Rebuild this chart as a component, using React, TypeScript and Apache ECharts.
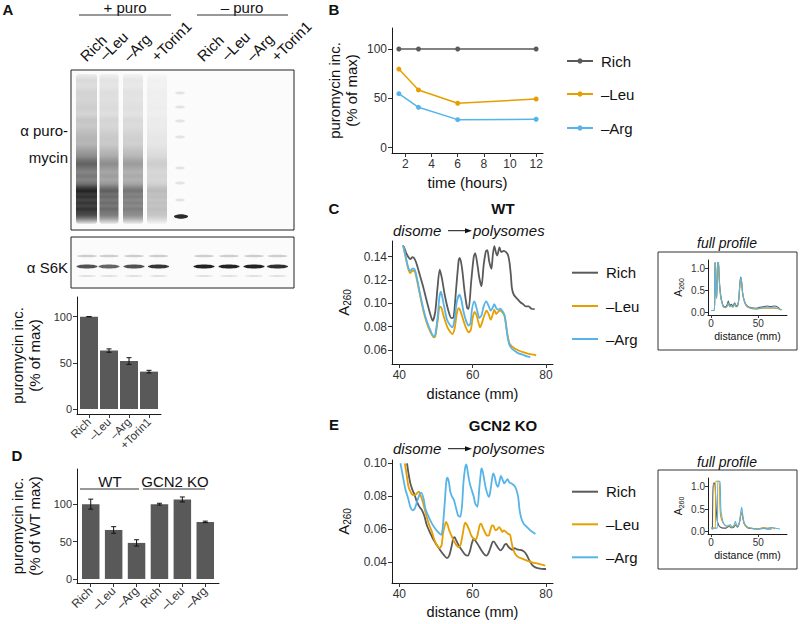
import React, { useEffect, useRef } from "react";
import * as echarts from "echarts";

const FONT = "'Liberation Sans', Arial, Helvetica, sans-serif";
const COL_RICH = "#5a5a5a";
const COL_LEU = "#E69F00";
const COL_ARG = "#56B4E9";
const COL_BAR = "#595959";

// ---------------- data ----------------
const conditionNames = ["Rich", "–Leu", "–Arg"];

const barACategories = ["Rich", "–Leu", "–Arg", "+Torin1"];
const barAValues = [100, 63.3, 52, 40.5];
const barAErrors = [0, 1.8, 3.6, 1.4];

const barDCategories = ["Rich", "–Leu", "–Arg", "Rich", "–Leu", "–Arg"];
const barDValues = [100, 65.5, 48.2, 100, 106.3, 76.3];
const barDErrors = [6.7, 4.4, 4.2, 1.2, 3.3, 1.0];

const timeHours = [1.5, 3, 6, 12];
const timeRich = [100, 100, 100, 100];
const timeLeu = [79.7, 58.5, 45, 49.3];
const timeArg = [54.7, 40.9, 28.4, 28.8];

const wtRich = [[41.2,0.149],[42.1,0.1417],[43.0,0.138],[43.6,0.1397],[44.2,0.138],[44.8,0.133],[45.7,0.123],[46.6,0.113],[47.5,0.1017],[48.5,0.090],[49.1,0.085],[49.8,0.093],[50.4,0.113],[51.0,0.129],[51.6,0.1217],[52.4,0.107],[53.3,0.0946],[54.2,0.0874],[54.8,0.088],[55.5,0.113],[56.2,0.1374],[56.5,0.139],[57.1,0.130],[57.8,0.110],[58.5,0.096],[58.9,0.0954],[59.6,0.119],[60.3,0.140],[60.7,0.143],[61.3,0.133],[61.8,0.122],[62.4,0.1146],[63.0,0.133],[63.6,0.1446],[64.0,0.1457],[64.5,0.136],[65.1,0.1297],[65.5,0.1417],[65.9,0.149],[66.4,0.143],[66.7,0.141],[67.3,0.148],[67.8,0.144],[68.5,0.1451],[69.1,0.144],[69.6,0.1417],[70.0,0.136],[70.4,0.1246],[70.7,0.113],[71.2,0.1074],[72.1,0.104],[73.0,0.101],[73.9,0.0989],[74.5,0.0974],[75.3,0.0974],[76.0,0.0954],[76.9,0.0951]];
const wtLeu = [[41.0,0.150],[41.6,0.1417],[42.4,0.130],[43.0,0.126],[43.6,0.128],[44.2,0.1274],[44.8,0.120],[45.7,0.106],[46.6,0.093],[47.5,0.083],[48.5,0.0754],[49.4,0.0709],[49.8,0.0717],[50.5,0.086],[51.0,0.0974],[51.5,0.096],[52.1,0.0889],[53.0,0.0803],[53.9,0.0754],[54.5,0.0737],[55.1,0.0789],[55.7,0.0917],[56.2,0.096],[56.7,0.0931],[57.5,0.085],[58.2,0.0789],[58.9,0.0751],[59.5,0.0774],[60.0,0.0874],[60.5,0.0926],[61.0,0.0903],[61.5,0.0846],[62.0,0.0794],[62.5,0.0831],[63.3,0.0909],[63.8,0.0937],[64.4,0.0903],[64.9,0.086],[65.5,0.0909],[65.9,0.0946],[66.4,0.0909],[66.9,0.0926],[67.5,0.0937],[68.2,0.0917],[68.7,0.0889],[69.1,0.0811],[69.5,0.0731],[70.0,0.066],[70.7,0.0631],[71.6,0.0611],[72.7,0.0594],[73.9,0.058],[75.3,0.0566],[76.6,0.056],[77.3,0.0554]];
const wtArg = [[41.0,0.150],[41.6,0.1417],[42.4,0.131],[43.0,0.128],[43.6,0.130],[44.2,0.1289],[44.8,0.1217],[45.7,0.1074],[46.6,0.0946],[47.5,0.0846],[48.5,0.0766],[49.4,0.0717],[49.8,0.073],[50.5,0.090],[50.9,0.1046],[51.3,0.110],[51.6,0.107],[52.3,0.096],[53.0,0.086],[53.9,0.0811],[54.5,0.0794],[55.1,0.0874],[55.7,0.1017],[56.4,0.1074],[56.9,0.1031],[57.5,0.093],[58.2,0.085],[58.9,0.081],[59.4,0.083],[59.8,0.0946],[60.4,0.1017],[60.7,0.100],[61.3,0.093],[61.8,0.0874],[62.4,0.0897],[63.0,0.0974],[63.7,0.1017],[64.4,0.0974],[64.9,0.0937],[65.5,0.0966],[65.9,0.0994],[66.4,0.096],[66.9,0.0946],[67.5,0.0954],[68.2,0.093],[68.7,0.0897],[69.1,0.0817],[69.5,0.0717],[70.0,0.0646],[70.7,0.0611],[71.6,0.0589],[72.5,0.0571],[73.6,0.056],[74.8,0.0546],[75.7,0.054]];

const koRich = [[42.1,0.100],[42.5,0.0939],[43.0,0.0878],[43.6,0.0837],[44.2,0.0806],[44.8,0.0765],[45.5,0.0735],[46.2,0.0714],[46.9,0.0674],[47.5,0.0623],[48.5,0.0572],[49.4,0.0531],[50.3,0.050],[51.2,0.047],[52.1,0.0443],[53.0,0.0423],[53.6,0.0439],[54.2,0.049],[54.7,0.0541],[55.1,0.0551],[55.5,0.0531],[56.2,0.050],[57.1,0.047],[58.0,0.0443],[58.7,0.0439],[59.3,0.047],[59.8,0.0516],[60.3,0.0541],[60.7,0.0531],[61.5,0.0504],[62.4,0.047],[63.3,0.0443],[63.8,0.0439],[64.4,0.0459],[65.0,0.0496],[65.5,0.0524],[65.8,0.0524],[66.4,0.0504],[67.1,0.048],[67.6,0.047],[68.2,0.0484],[68.7,0.0504],[69.2,0.051],[69.6,0.0496],[70.3,0.048],[70.9,0.0474],[71.5,0.0484],[72.1,0.0476],[72.7,0.0474],[73.5,0.047],[74.2,0.0459],[74.8,0.0439],[75.5,0.0408],[76.2,0.0382],[77.1,0.0367],[78.0,0.0361],[79.4,0.0357],[80.0,0.0357]];
const koLeu = [[41.5,0.100],[42.0,0.0929],[42.5,0.0857],[43.3,0.0816],[43.9,0.0806],[44.5,0.081],[45.3,0.0827],[45.7,0.081],[46.4,0.0765],[47.1,0.0704],[48.0,0.0633],[48.9,0.0582],[49.6,0.0531],[50.3,0.050],[50.9,0.0484],[51.5,0.050],[51.9,0.0572],[52.4,0.0623],[52.7,0.0643],[53.2,0.0623],[53.6,0.0592],[54.2,0.0561],[54.8,0.0531],[55.5,0.0504],[56.2,0.049],[56.7,0.0504],[57.3,0.0572],[57.7,0.0623],[58.0,0.0639],[58.5,0.0623],[59.1,0.0592],[59.6,0.0561],[60.3,0.0541],[60.9,0.0537],[61.5,0.0582],[61.9,0.0623],[62.3,0.0633],[62.7,0.0612],[63.3,0.0582],[63.9,0.0561],[64.4,0.0561],[64.8,0.0592],[65.3,0.0623],[65.7,0.0618],[66.2,0.0592],[66.7,0.0598],[67.2,0.0612],[67.6,0.0602],[68.1,0.0582],[68.5,0.0592],[69.1,0.0582],[69.6,0.0572],[70.2,0.0565],[70.5,0.0531],[71.0,0.048],[71.6,0.0449],[72.5,0.0429],[73.6,0.0419],[74.8,0.0408],[76.2,0.0398],[78.0,0.0388],[79.8,0.0378]];
const koArg = [[40.3,0.100],[40.9,0.0929],[41.6,0.0847],[42.4,0.0786],[43.0,0.0735],[43.6,0.0714],[44.2,0.0725],[44.8,0.0765],[45.5,0.081],[46.0,0.0822],[46.6,0.0786],[47.1,0.0725],[48.0,0.0674],[48.9,0.0633],[49.8,0.0602],[50.7,0.0578],[51.4,0.0565],[51.8,0.0602],[52.4,0.0765],[52.8,0.0888],[53.1,0.0912],[53.5,0.0888],[53.9,0.0827],[54.4,0.0796],[54.9,0.0776],[55.5,0.0725],[56.0,0.0684],[56.6,0.0674],[57.1,0.0745],[57.5,0.0888],[58.0,0.098],[58.3,0.0994],[58.7,0.0939],[59.2,0.0878],[59.6,0.0847],[60.3,0.0796],[60.7,0.0755],[61.3,0.0735],[61.8,0.0847],[62.3,0.0959],[62.5,0.0969],[63.0,0.0918],[63.6,0.0847],[64.4,0.0796],[64.8,0.0827],[65.3,0.0908],[65.6,0.0939],[66.0,0.0918],[66.4,0.0878],[66.9,0.0857],[67.3,0.0888],[67.7,0.0924],[68.2,0.0898],[68.6,0.0878],[69.1,0.0892],[69.5,0.0904],[70.0,0.0884],[70.5,0.0878],[71.2,0.0867],[71.8,0.0847],[72.4,0.0796],[72.8,0.0714],[73.3,0.0663],[73.9,0.0633],[74.8,0.0612],[75.7,0.0592],[76.6,0.0578],[77.1,0.057]];

const wtFullRich = [[0,0.05],[3,0.05],[3.8,0.2],[4.2,1.12],[4.7,1.12],[5.3,0.45],[6,0.35],[6.9,1.12],[7.8,1.12],[8.4,0.9],[9.2,0.6],[10.2,0.4],[11.5,0.25],[13,0.15],[15,0.13],[17,0.18],[18.3,0.26],[19.8,0.16],[21.5,0.19],[23,0.15],[25,0.22],[26.5,0.16],[28,0.16],[29.3,0.3],[30.3,0.6],[31.3,0.8],[32.2,0.72],[33.2,0.48],[34.5,0.32],[36.5,0.2],[39,0.14],[43,0.11],[47,0.1],[51,0.12],[55,0.13],[59,0.15],[63,0.14],[67,0.15],[71,0.12],[73,0.07]];
const wtFullLeu = [[0,0.05],[3,0.05],[3.8,0.2],[4.2,1.12],[4.7,1.12],[5.3,0.42],[6,0.32],[6.9,1.12],[7.8,1.12],[8.4,0.85],[9.2,0.55],[10.2,0.35],[11.5,0.22],[13,0.13],[15,0.11],[17,0.14],[18.3,0.2],[19.8,0.13],[21.5,0.15],[23,0.12],[25,0.18],[26.5,0.13],[28,0.14],[29.3,0.28],[30.3,0.55],[31.3,0.75],[32.2,0.7],[33.2,0.46],[34.5,0.3],[36.5,0.18],[39,0.12],[43,0.09],[47,0.08],[51,0.09],[55,0.1],[59,0.1],[63,0.1],[67,0.1],[71,0.09],[75,0.06]];
const wtFullArg = [[0,0.05],[3,0.05],[3.8,0.2],[4.2,1.12],[4.7,1.12],[5.3,0.44],[6,0.33],[6.9,1.12],[7.8,1.12],[8.4,0.88],[9.2,0.58],[10.2,0.37],[11.5,0.23],[13,0.14],[15,0.12],[17,0.15],[18.3,0.22],[19.8,0.14],[21.5,0.16],[23,0.13],[25,0.2],[26.5,0.14],[28,0.15],[29.3,0.3],[30.3,0.58],[31.3,0.78],[32.2,0.72],[33.2,0.48],[34.5,0.31],[36.5,0.19],[39,0.13],[43,0.1],[47,0.09],[51,0.1],[55,0.11],[59,0.11],[63,0.11],[67,0.11],[71,0.1],[74,0.06]];

const koFullRich = [[1.5,0.05],[2,0.9],[2.8,1.08],[3.8,1.08],[4.6,0.9],[5.5,0.5],[6.5,0.25],[8,0.15],[10,0.1],[13,0.08],[16,0.08],[19,0.12],[21,0.09],[24,0.1],[26,0.15],[28,0.1],[30,0.2],[31.5,0.38],[32.5,0.42],[33.5,0.32],[35,0.18],[38,0.1],[42,0.07],[50,0.06],[56,0.07],[60,0.06],[64,0.06]];
const koFullLeu = [[0,0.08],[4.5,0.08],[5,1.12],[8.5,1.12],[9.3,0.6],[10.2,0.34],[11.5,0.25],[13,0.19],[16.5,0.12],[19,0.14],[21,0.1],[24,0.12],[26,0.16],[28,0.12],[30,0.2],[31.5,0.38],[32.5,0.44],[33.5,0.33],[35,0.18],[38,0.1],[42,0.08],[50,0.06],[55,0.09],[60,0.08],[64,0.09],[67.6,0.06]];
const koFullArg = [[0,0.08],[6.7,0.08],[7.2,1.12],[9.5,1.12],[10.1,0.7],[10.6,0.45],[12,0.28],[13,0.19],[16.5,0.12],[19,0.14],[20.5,0.16],[22,0.1],[24,0.13],[25.8,0.23],[27.5,0.12],[30,0.2],[31.5,0.45],[32.4,0.55],[33.4,0.4],[35,0.2],[37.7,0.12],[42,0.08],[50,0.06],[55,0.08],[60,0.07],[65,0.09],[70,0.07],[72.9,0.06]];

// tick labels
const pctTicks = [0, 50, 100];
const hourTicks = [2, 4, 6, 8, 10, 12];
const mmTicks = [40, 60, 80];
const wtA260Ticks = [0.06, 0.08, 0.10, 0.12, 0.14];
const koA260Ticks = [0.04, 0.06, 0.08, 0.10];
const fullMmTicks = [0, 50];
const fullA260Ticks = [0, 0.5, 1.0];

// ---------------- helpers ----------------
function valAxis(o: any) {
  return {
    type: "value",
    gridIndex: o.grid,
    min: o.min,
    max: o.max,
    axisLine: { show: true, onZero: false, lineStyle: { color: "#1a1a1a", width: 1 } },
    axisTick: { show: true, length: o.tickLen || 4, customValues: o.ticks, lineStyle: { color: "#333", width: 1 } },
    axisLabel: {
      show: true,
      customValues: o.ticks,
      formatter: o.fmt,
      color: "#333",
      fontSize: o.fs || 11.5,
      fontFamily: FONT,
      margin: o.margin || 5,
      rotate: o.rotate || 0,
    },
    splitLine: { show: false },
    name: o.name,
    nameLocation: "middle",
    nameGap: o.nameGap,
    nameRotate: o.nameRotate,
    nameTextStyle: Object.assign(
      { fontFamily: FONT, fontSize: o.nfs || 15, color: "#111", lineHeight: o.nlh || 17 },
      o.nameStyle || {}
    ),
  };
}

function a260Name(big: number, small: number) {
  return {
    rich: {
      a: { fontFamily: FONT, fontSize: big, color: "#111", lineHeight: big + 3 },
      b: { fontFamily: FONT, fontSize: small, color: "#111", verticalAlign: "bottom", lineHeight: small },
    },
  };
}

function lineSeries(name: string, data: any, xi: number, color: string, width: number, withSymbol = false) {
  return {
    type: "line",
    name,
    xAxisIndex: xi,
    yAxisIndex: xi,
    data,
    smooth: withSymbol ? false : 0.25,
    symbol: withSymbol ? "circle" : "none",
    symbolSize: 5,
    showSymbol: withSymbol,
    lineStyle: { color, width },
    itemStyle: { color },
    clip: true,
    z: 3,
  };
}

function errorSeries(xi: number, values: number[], errs: number[]) {
  return {
    type: "custom",
    xAxisIndex: xi,
    yAxisIndex: xi,
    data: values.map((v, i) => [i + 1, v - errs[i], v + errs[i]]),
    encode: { x: 0, y: [1, 2] },
    z: 5,
    renderItem: (params: any, api: any) => {
      const x = api.value(0);
      const top = api.coord([x, api.value(2)]);
      const bot = api.coord([x, api.value(1)]);
      const w = 2.5;
      const st = { stroke: "#111", lineWidth: 1 };
      return {
        type: "group",
        children: [
          { type: "line", shape: { x1: top[0], y1: top[1], x2: bot[0], y2: bot[1] }, style: st },
          { type: "line", shape: { x1: top[0] - w, y1: top[1], x2: top[0] + w, y2: top[1] }, style: st },
          { type: "line", shape: { x1: bot[0] - w, y1: bot[1], x2: bot[0] + w, y2: bot[1] }, style: st },
        ],
      };
    },
  };
}

function txt(text: string, x: number, y: number, opt: any = {}) {
  const font = `${opt.style || "normal"} ${opt.weight || "normal"} ${opt.size || 15}px ${FONT}`;
  return {
    type: "text",
    x,
    y,
    rotation: opt.rotation || 0,
    z: 10,
    style: {
      text,
      font,
      fill: opt.color || "#111",
      align: opt.align || "center",
      textAlign: opt.align || "center",
      verticalAlign: opt.va || "middle",
      textVerticalAlign: opt.va || "middle",
    },
  };
}

function hline(x1: number, x2: number, y: number, color = "#333", w = 1) {
  return { type: "line", shape: { x1, y1: y, x2, y2: y }, style: { stroke: color, lineWidth: w }, z: 10 };
}

function legendGraphic(x0: number, ys: number[], dots: boolean) {
  const cols = [COL_RICH, COL_LEU, COL_ARG];
  const els: any[] = [];
  conditionNames.forEach((n, i) => {
    els.push(hline(x0, x0 + 26, ys[i], cols[i], 2));
    if (dots) els.push({ type: "circle", shape: { cx: x0 + 13, cy: ys[i], r: 2.6 }, style: { fill: cols[i] }, z: 11 });
    els.push(txt(n, x0 + 34, ys[i], { align: "left", size: 15 }));
  });
  return els;
}

function arrowLabel(y: number) {
  return [
    txt("disome", 393, y, { align: "left", style: "italic", size: 15 }),
    hline(448, 467, y + 0.7, "#111", 1),
    { type: "polygon", shape: { points: [[472, y + 0.7], [465, y - 1.8], [465, y + 3.2]] }, style: { fill: "#111" }, z: 10 },
    txt("polysomes", 473, y, { align: "left", style: "italic", size: 15 }),
  ];
}

function blotGraphic() {
  const els: any[] = [];
  els.push({ type: "rect", shape: { x: 71, y: 70, width: 223, height: 160 }, style: { fill: "#fbfbfb", stroke: "#222", lineWidth: 1 }, z: 1 });
  const profile = [[74,0.06],[80,0.15],[86,0.13],[92,0.18],[100,0.17],[108,0.2],[114,0.17],[120,0.24],[126,0.22],[132,0.27],[138,0.31],[144,0.3],[150,0.4],[156,0.48],[160,0.6],[164,0.68],[168,0.6],[172,0.52],[176,0.58],[180,0.52],[184,0.62],[188,0.85],[191,0.97],[194,0.85],[197,0.9],[200,0.8],[203,0.88],[206,0.8],[209,0.9],[212,0.82],[215,0.78],[218,0.6],[221,0.35],[224,0.08]];
  const top = 74, bot = 224;
  const lanes = [[86.5, 21, 1], [109, 19, 0.72], [133, 20, 0.62], [157, 20, 0.3]];
  lanes.forEach(([cx, w, k]) => {
    els.push({
      type: "rect",
      shape: { x: cx - w / 2, y: top, width: w, height: bot - top, r: 3 },
      style: {
        fill: {
          type: "linear", x: 0, y: 0, x2: 0, y2: 1,
          colorStops: profile.map(([y, d]) => ({ offset: (y - top) / (bot - top), color: `rgba(25,25,25,${(d * k).toFixed(3)})` })),
        },
      },
      z: 2,
    });
  });
  [93, 107, 121, 137, 168, 183, 200].forEach((y) =>
    els.push({ type: "ellipse", shape: { cx: 180, cy: y, rx: 5, ry: 1.5 }, style: { fill: "rgba(0,0,0,0.09)" }, z: 2 })
  );
  els.push({ type: "ellipse", shape: { cx: 181, cy: 216.5, rx: 7, ry: 2.2 }, style: { fill: "rgba(20,20,20,0.9)" }, z: 2 });

  els.push({ type: "rect", shape: { x: 71, y: 237, width: 223, height: 51 }, style: { fill: "#fbfbfb", stroke: "#222", lineWidth: 1 }, z: 1 });
  const s6k = [[87, 0.7], [109, 0.62], [134, 0.7], [158.5, 0.82], [204, 0.9], [229, 0.9], [254, 0.9], [277.5, 0.85]];
  s6k.forEach(([cx, k]) => {
    els.push({ type: "ellipse", shape: { cx, cy: 256, rx: 10, ry: 1.3 }, style: { fill: "rgba(0,0,0,0.18)" }, z: 2 });
    els.push({ type: "ellipse", shape: { cx, cy: 266.6, rx: 10.5, ry: 2 }, style: { fill: `rgba(10,10,10,${k})` }, z: 2 });
    els.push({ type: "ellipse", shape: { cx, cy: 276, rx: 9, ry: 1 }, style: { fill: "rgba(0,0,0,0.1)" }, z: 2 });
  });
  return els;
}

function buildOption(): any {
  const grids = [
    { left: 77, top: 297, width: 84, height: 117 },   // A bars
    { left: 77, top: 469, width: 142, height: 114 },  // D bars
    { left: 392, top: 28, width: 151, height: 125 },  // B
    { left: 392, top: 241, width: 161, height: 123 }, // C
    { left: 392, top: 460, width: 161, height: 123 }, // E
    { left: 708, top: 260, width: 79, height: 55 },   // C inset
    { left: 708, top: 478, width: 79, height: 56 },   // E inset
  ];
  const f2 = (v: number) => v.toFixed(2);
  const f1 = (v: number) => v.toFixed(1);
  const f0 = (v: number) => String(Math.round(v));

  const xAxis = [
    valAxis({ grid: 0, min: 0.4, max: 4.6, ticks: [1, 2, 3, 4], fmt: (v: number) => barACategories[Math.round(v) - 1], rotate: 45, fs: 11.5, margin: 6 }),
    valAxis({ grid: 1, min: 0.4, max: 6.6, ticks: [1, 2, 3, 4, 5, 6], fmt: (v: number) => barDCategories[Math.round(v) - 1], rotate: 45, fs: 12, margin: 6 }),
    valAxis({ grid: 2, min: 0.975, max: 12.525, ticks: hourTicks, fmt: f0, fs: 12, name: "time (hours)", nameGap: 21, nfs: 15 }),
    valAxis({ grid: 3, min: 38.0, max: 81.9, ticks: mmTicks, fmt: f0, fs: 12, name: "distance (mm)", nameGap: 21, nfs: 14.5 }),
    valAxis({ grid: 4, min: 38.0, max: 81.9, ticks: mmTicks, fmt: f0, fs: 12, name: "distance (mm)", nameGap: 20, nfs: 14.5 }),
    valAxis({ grid: 5, min: -3.2, max: 80.3, ticks: fullMmTicks, fmt: f0, fs: 10, tickLen: 3, margin: 3, name: "distance (mm)", nameGap: 15, nfs: 10.5, nlh: 12 }),
    valAxis({ grid: 6, min: -3.2, max: 80.3, ticks: fullMmTicks, fmt: f0, fs: 10, tickLen: 3, margin: 3, name: "distance (mm)", nameGap: 15, nfs: 10.5, nlh: 12 }),
  ];
  const yAxis = [
    valAxis({ grid: 0, min: -5.4, max: 121.3, ticks: pctTicks, fmt: f0, fs: 11, name: "puromycin inc.\n(% of max)", nameGap: 34, nameRotate: 90 }),
    valAxis({ grid: 1, min: -5.4, max: 147, ticks: pctTicks, fmt: f0, fs: 11, name: "puromycin inc.\n(% of WT max)", nameGap: 34, nameRotate: 90 }),
    valAxis({ grid: 2, min: -5.4, max: 121.3, ticks: pctTicks, fmt: f0, fs: 12, name: "puromycin inc.\n(% of max)", nameGap: 32, nameRotate: 90 }),
    valAxis({ grid: 3, min: 0.048, max: 0.1535, ticks: wtA260Ticks, fmt: f2, fs: 12, name: "{a|A}{b|260}", nameGap: 40, nameRotate: 90, nameStyle: a260Name(15, 10) }),
    valAxis({ grid: 4, min: 0.0272, max: 0.102, ticks: koA260Ticks, fmt: f2, fs: 12, name: "{a|A}{b|260}", nameGap: 40, nameRotate: 90, nameStyle: a260Name(15, 10) }),
    valAxis({ grid: 5, min: -0.051, max: 1.179, ticks: fullA260Ticks, fmt: f1, fs: 10, tickLen: 3, margin: 3, name: "{a|A}{b|260}", nameGap: 23, nameRotate: 90, nameStyle: a260Name(10.5, 7) }),
    valAxis({ grid: 6, min: -0.051, max: 1.193, ticks: fullA260Ticks, fmt: f1, fs: 10, tickLen: 3, margin: 3, name: "{a|A}{b|260}", nameGap: 23, nameRotate: 90, nameStyle: a260Name(10.5, 7) }),
  ];

  const series: any[] = [
    { type: "bar", xAxisIndex: 0, yAxisIndex: 0, data: barAValues.map((v, i) => [i + 1, v]), barWidth: 18, itemStyle: { color: COL_BAR } },
    errorSeries(0, barAValues, barAErrors),
    { type: "bar", xAxisIndex: 1, yAxisIndex: 1, data: barDValues.map((v, i) => [i + 1, v]), barWidth: 17.5, itemStyle: { color: COL_BAR } },
    errorSeries(1, barDValues, barDErrors),
    lineSeries(conditionNames[0], timeHours.map((t, i) => [t, timeRich[i]]), 2, COL_RICH, 1.5, true),
    lineSeries(conditionNames[1], timeHours.map((t, i) => [t, timeLeu[i]]), 2, COL_LEU, 1.5, true),
    lineSeries(conditionNames[2], timeHours.map((t, i) => [t, timeArg[i]]), 2, COL_ARG, 1.5, true),
    lineSeries(conditionNames[0], wtRich, 3, COL_RICH, 1.8),
    lineSeries(conditionNames[1], wtLeu, 3, COL_LEU, 1.8),
    lineSeries(conditionNames[2], wtArg, 3, COL_ARG, 1.8),
    lineSeries(conditionNames[0], koRich, 4, COL_RICH, 1.8),
    lineSeries(conditionNames[1], koLeu, 4, COL_LEU, 1.8),
    lineSeries(conditionNames[2], koArg, 4, COL_ARG, 1.8),
    lineSeries(conditionNames[0], wtFullRich, 5, COL_RICH, 1.1),
    lineSeries(conditionNames[1], wtFullLeu, 5, COL_LEU, 1.1),
    lineSeries(conditionNames[2], wtFullArg, 5, COL_ARG, 1.1),
    lineSeries(conditionNames[0], koFullRich, 6, COL_RICH, 1.1),
    lineSeries(conditionNames[1], koFullLeu, 6, COL_LEU, 1.1),
    lineSeries(conditionNames[2], koFullArg, 6, COL_ARG, 1.1),
  ];

  const laneLabels: [string, number, number][] = [
    ["Rich", 88, 64], ["–Leu", 107, 63], ["–Arg", 131, 64], ["+Torin1", 159, 64],
    ["Rich", 205, 64], ["–Leu", 229, 63], ["–Arg", 254, 64], ["+Torin1", 279, 64],
  ];

  const graphic: any[] = [
    ...blotGraphic(),
    txt("A", 8, 9, { weight: "bold", size: 15 }),
    txt("B", 334, 9, { weight: "bold", size: 15 }),
    txt("C", 334, 208, { weight: "bold", size: 15 }),
    txt("D", 17, 455, { weight: "bold", size: 15 }),
    txt("E", 334, 424, { weight: "bold", size: 15 }),
    txt("+ puro", 125, 7, { size: 15 }),
    hline(79, 171, 15, "#333", 1),
    txt("– puro", 242, 7, { size: 15 }),
    hline(197, 288, 15, "#333", 1),
    ...laneLabels.map(([t, x, y]) => txt(t, x, y, { align: "left", va: "bottom", rotation: Math.PI / 4, size: 15 })),
    txt("α puro-", 68, 130, { align: "right", size: 15 }),
    txt("mycin", 68, 157, { align: "right", size: 15 }),
    txt("α S6K", 68, 267, { align: "right", size: 15 }),
    txt("WT", 110, 481, { size: 15 }),
    hline(80, 139, 489, "#333", 1),
    txt("GCN2 KO", 175, 481, { size: 15 }),
    hline(143, 205, 489, "#333", 1),
    txt("WT", 503, 208, { weight: "bold", size: 15 }),
    txt("GCN2 KO", 503, 425, { weight: "bold", size: 15 }),
    ...arrowLabel(230),
    ...arrowLabel(448),
    ...legendGraphic(567, [61, 94, 128], true),
    ...legendGraphic(572, [272.7, 306, 339], false),
    ...legendGraphic(572, [491.7, 524.3, 557.3], false),
    { type: "rect", shape: { x: 658, y: 252, width: 139, height: 98 }, style: { fill: "none", stroke: "#333", lineWidth: 1 }, z: 1 },
    { type: "rect", shape: { x: 658, y: 470, width: 139, height: 99 }, style: { fill: "none", stroke: "#333", lineWidth: 1 }, z: 1 },
    txt("full profile", 727, 243, { style: "italic", size: 14 }),
    txt("full profile", 727, 461.5, { style: "italic", size: 14 }),
  ];

  return {
    animation: false,
    backgroundColor: "#ffffff",
    textStyle: { fontFamily: FONT },
    grid: grids,
    xAxis,
    yAxis,
    series,
    graphic,
  };
}

export default function App() {
  const ref = useRef<HTMLDivElement>(null);
  useEffect(() => {
    if (!ref.current) return;
    const chart = echarts.init(ref.current, undefined, { renderer: "svg" });
    chart.setOption(buildOption());
    return () => chart.dispose();
  }, []);
  return (
    <div
      ref={ref}
      style={{ position: "absolute", left: 0, top: 0, width: 800, height: 624, background: "#fff" }}
    />
  );
}
